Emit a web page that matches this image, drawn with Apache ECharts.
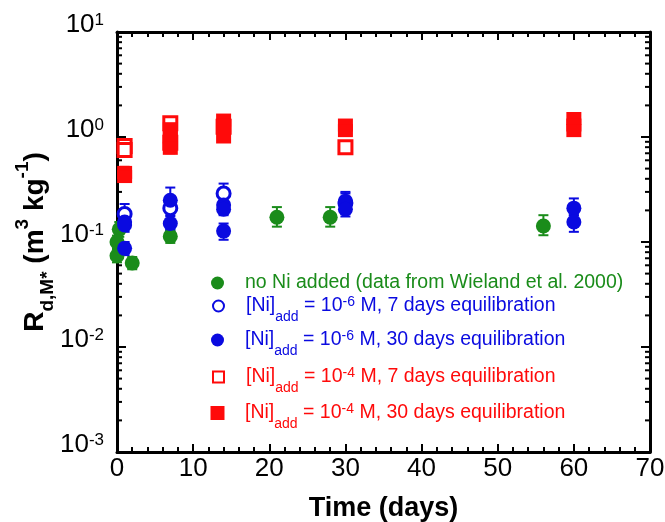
<!DOCTYPE html>
<html><head><meta charset="utf-8">
<script src="https://cdn.jsdelivr.net/npm/echarts@6/dist/echarts.min.js"></script>
<style>html,body{margin:0;padding:0;background:#fff}#c{width:665px;height:522px}</style>
</head><body><div id="c"></div>
<script>
// [day, value, errLow, errHigh]
const noNi = [[0.3,0.132,0.112,0.155],[0,0.100,0.087,0.115],[0,0.074,0.064,0.085],[2,0.063,0.055,0.072],[7,0.113,0.098,0.13],[21,0.172,0.14,0.215],[28,0.172,0.14,0.215],[56,0.142,0.116,0.18]];
const ni6d7 = [[1,0.185,0.165,0.23],[7,0.21,0.18,0.25],[14,0.29,0.25,0.36],[30,0.235,0.2,0.29]];
const ni6d30 = [[1,0.155,0.135,0.2],[1,0.145,0.125,0.17],[1,0.087,0.075,0.1],[7,0.25,0.21,0.33],[7,0.15,0.13,0.175],[14,0.225,0.19,0.27],[14,0.205,0.18,0.24],[14,0.127,0.105,0.15],[30,0.245,0.21,0.3],[30,0.205,0.175,0.24],[60,0.21,0.18,0.26],[60,0.155,0.125,0.18]];
const ni4d7 = [[1,0.82,0.7,0.95],[1,0.75,0.68,0.85],[7,1.35,1.2,1.5],[7,0.88,0.8,0.95],[14,1.25,1.1,1.4],[30,0.8,0.72,0.88]];
const ni4d30 = [[1,0.46,0.42,0.52],[1,0.42,0.38,0.46],[7,1.2,1.05,1.35],[7,1.0,0.9,1.1],[7,0.78,0.7,0.85],[14,1.45,1.3,1.6],[14,1.3,1.15,1.45],[14,1.0,0.92,1.1],[30,1.3,1.15,1.4],[30,1.15,1.05,1.25],[60,1.5,1.35,1.6],[60,1.3,1.2,1.4],[60,1.15,1.05,1.2]];
const seriesNames = ['noNi','ni6d7','ni6d30','ni4d7','ni4d30'];
const xRange = [0, 70];
const yRange = [0.001, 10];
const yDecades = [0.001, 0.01, 0.1, 1];
const yMinorSteps = [2,3,4,5,6,7,8,9];

const GREEN = '#1a8c1a', BLUE = '#0a0ae0', RED = '#ff0a0a';
const FONT = 'Liberation Sans, Arial, sans-serif';

const yMinor = [];
yDecades.forEach(d => yMinorSteps.forEach(s => yMinor.push([0, s * d])));

function errRender(params, api) {
  const x = api.value(0), lo = api.value(2), hi = api.value(3);
  const p1 = api.coord([x, lo]), p2 = api.coord([x, hi]);
  const hw = 5;
  const style = {stroke: api.visual('color'), lineWidth: 2};
  return {type: 'group', children: [
    {type: 'line', shape: {x1: p1[0], y1: p1[1], x2: p2[0], y2: p2[1]}, style: style},
    {type: 'line', shape: {x1: p1[0]-hw, y1: p1[1], x2: p1[0]+hw, y2: p1[1]}, style: style},
    {type: 'line', shape: {x1: p2[0]-hw, y1: p2[1], x2: p2[0]+hw, y2: p2[1]}, style: style}
  ]};
}
function minorRender(params, api) {
  const v = api.value(1);
  const a = api.coord([xRange[0], v]), b = api.coord([xRange[1], v]);
  const st = {stroke: '#000', lineWidth: 2};
  return {type: 'group', children: [
    {type: 'line', shape: {x1: a[0], y1: a[1], x2: a[0]+5, y2: a[1]}, style: st},
    {type: 'line', shape: {x1: b[0], y1: b[1], x2: b[0]-5, y2: b[1]}, style: st}
  ]};
}

const datasets = [
  {name: 'noNi', data: noNi, color: GREEN, symbol: 'circle', size: 15, open: false, icon: 13},
  {name: 'ni6d7', data: ni6d7, color: BLUE, symbol: 'circle', size: 13, open: true, icon: 11},
  {name: 'ni6d30', data: ni6d30, color: BLUE, symbol: 'circle', size: 15, open: false, icon: 13},
  {name: 'ni4d7', data: ni4d7, color: RED, symbol: 'rect', size: 13, open: true, icon: 11},
  {name: 'ni4d30', data: ni4d30, color: RED, symbol: 'rect', size: [15, 13], open: false, icon: 14}
];

const series = [];
datasets.forEach(d => {
  series.push({type: 'custom', name: d.name + '_err', data: d.data, renderItem: errRender,
    encode: {x: 0, y: 2}, itemStyle: {color: d.color}, z: 3, clip: false, silent: true});
  series.push({type: 'scatter', name: d.name, data: d.data, encode: {x: 0, y: 1},
    symbol: d.symbol, symbolSize: d.size, clip: false, z: 4,
    itemStyle: d.open ? {color: '#fff', borderColor: d.color, borderWidth: 3, opacity: 1}
                      : {color: d.color, opacity: 1}});
});
series.push({type: 'custom', name: 'minorTicks', data: yMinor, renderItem: minorRender,
  encode: {x: 0, y: 1}, clip: false, silent: true, z: 1});

const legendText = {
  noNi: 'no Ni added (data from Wieland et al. 2000)',
  ni6d7: '{a|[Ni]}{b|add}{a| = 10}{s|-6}{a| M, 7 days equilibration}',
  ni6d30: '{a|[Ni]}{b|add}{a| = 10}{s|-6}{a| M, 30 days equilibration}',
  ni4d7: '{a|[Ni]}{b|add}{a| = 10}{s|-4}{a| M, 7 days equilibration}',
  ni4d30: '{a|[Ni]}{b|add}{a| = 10}{s|-4}{a| M, 30 days equilibration}'
};
const legendCenter = {noNi: 284, ni6d7: 306, ni6d30: 340, ni4d7: 377, ni4d30: 413};
const legendColor = {noNi: GREEN, ni6d7: BLUE, ni6d30: BLUE, ni4d7: RED, ni4d30: RED};
const LFS = 19.5;
const legends = datasets.map(d => {
  const n = d.name;
  const lh = n === 'noNi' ? 22 : 36;
  return {
    data: [n], left: 217.5 - d.icon / 2, top: legendCenter[n] - lh / 2, orient: 'vertical', padding: 0,
    itemWidth: d.icon, itemHeight: d.icon, selectedMode: false,
    formatter: () => (n === 'noNi' ? '{p| }{a|' + legendText[n] + '}' : '{p| }' + legendText[n]),
    textStyle: {color: legendColor[n], fontFamily: FONT, fontSize: LFS,
      rich: {
        p: {width: 245 - (217.5 + d.icon / 2) - 5, fontSize: LFS},
        a: {fontSize: LFS, fontFamily: FONT, color: legendColor[n], lineHeight: lh},
        b: {fontSize: 14, fontFamily: FONT, color: legendColor[n], lineHeight: 13, verticalAlign: 'bottom'},
        s: {fontSize: 14, fontFamily: FONT, color: legendColor[n], lineHeight: 13, verticalAlign: 'top', padding: [7,0,0,0]}
      }}
  };
});

const axisLineStyle = {color: '#000', width: 3};
const chart = echarts.init(document.getElementById('c'), null, {renderer: 'canvas'});
chart.setOption({
  animation: false,
  backgroundColor: '#fff',
  grid: {left: 117, right: 15, top: 32, bottom: 70, containLabel: false, outerBoundsMode: 'none'},
  legend: legends,
  xAxis: [
    {type: 'value', min: xRange[0], max: xRange[1], interval: 10, position: 'bottom',
     axisLine: {show: true, onZero: false, lineStyle: axisLineStyle},
     axisTick: {show: true, inside: true, length: 8, lineStyle: {width: 2, color: '#000'}},
     minorTick: {show: true, splitNumber: 5, length: 5, lineStyle: {width: 2, color: '#000'}},
     splitLine: {show: false}, minorSplitLine: {show: false},
     axisLabel: {fontFamily: FONT, fontSize: 26, color: '#000', margin: 4},
     name: 'Time (days)', nameLocation: 'middle', nameGap: 43, nameMoveOverlap: false,
     nameTextStyle: {fontFamily: FONT, fontSize: 27, fontWeight: 'bold', color: '#000'}},
    {type: 'value', min: xRange[0], max: xRange[1], interval: 10, position: 'top',
     axisLine: {show: true, onZero: false, lineStyle: axisLineStyle},
     axisTick: {show: true, inside: true, length: 8, lineStyle: {width: 2, color: '#000'}},
     minorTick: {show: true, splitNumber: 5, length: 5, lineStyle: {width: 2, color: '#000'}},
     splitLine: {show: false}, axisLabel: {show: false}}
  ],
  yAxis: [
    {type: 'log', logBase: 10, min: yRange[0], max: yRange[1], splitNumber: 4, position: 'left',
     axisLine: {show: true, onZero: false, lineStyle: axisLineStyle},
     axisTick: {show: true, inside: true, length: 9, lineStyle: {width: 2, color: '#000'}},
     splitLine: {show: false},
     axisLabel: {margin: 13, padding: [0,0,14,0],
       formatter: v => '{b|10}{s|' + Math.round(Math.log10(v)) + '}',
       rich: {b: {fontFamily: FONT, fontSize: 26, color: '#000', lineHeight: 26},
              s: {fontFamily: FONT, fontSize: 17, color: '#000', lineHeight: 17, verticalAlign: 'top'}}},
     name: '{b|R}{u|d,M*}{b| (m}{s|3}{b| kg}{s|-1}{b|)}', nameLocation: 'middle', nameGap: 60, nameRotate: 90,
     nameMoveOverlap: false,
     nameTextStyle: {rich: {
       b: {fontFamily: FONT, fontSize: 28, fontWeight: 'bold', color: '#000', lineHeight: 44},
       u: {fontFamily: FONT, fontSize: 19, fontWeight: 'bold', color: '#000', lineHeight: 18, verticalAlign: 'bottom'},
       s: {fontFamily: FONT, fontSize: 19, fontWeight: 'bold', color: '#000', lineHeight: 18, verticalAlign: 'top'}}}},
    {type: 'log', logBase: 10, min: yRange[0], max: yRange[1], splitNumber: 4, position: 'right',
     axisLine: {show: true, onZero: false, lineStyle: axisLineStyle},
     axisTick: {show: true, inside: true, length: 9, lineStyle: {width: 2, color: '#000'}},
     splitLine: {show: false}, axisLabel: {show: false}}
  ],
  series: series
});
</script></body></html>
